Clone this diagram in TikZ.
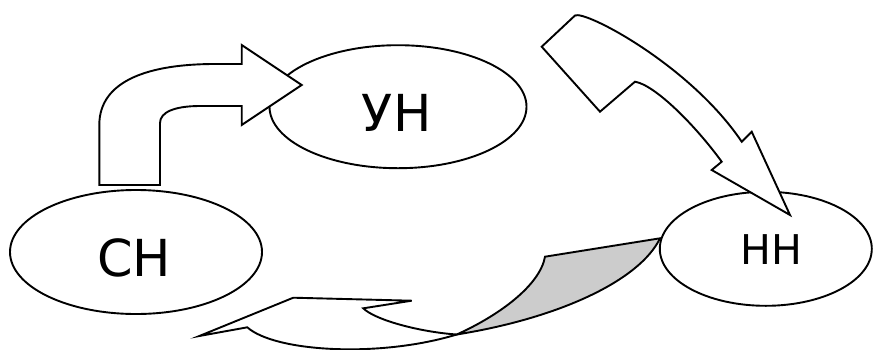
\documentclass[tikz,border=0pt]{standalone}
\usepackage{fontspec}
\setmainfont{DejaVu Sans}
\usetikzlibrary{shapes.geometric}
\definecolor{shade}{HTML}{CCCCCC}
\begin{document}
\begin{tikzpicture}[x=1pt,y=-1pt,
  blob/.style={ellipse,draw=black,line width=1.9pt,fill=white,inner sep=0pt},
  blockarrow/.style={draw=black,line width=1.9pt,fill=white,line join=miter},
  lbl/.style={inner sep=0pt,font=\fontsize{51}{51}\selectfont},
  slbl/.style={inner sep=0pt,font=\fontsize{41}{41}\selectfont}]
\useasboundingbox (0,0) rectangle (873,349);
\clip (0,0) rectangle (873,349);
% ellipses СН and УН
\node[blob,minimum width=252pt,minimum height=124pt] (CH) at (136,252) {};
\node[lbl] (tCH) at (134,258) {СН};
\node[blob,minimum width=257pt,minimum height=123pt] (UN) at (398,106.7) {};
\node[lbl] (tUN) at (396.7,113.3) {УН};
% arrow СН -> УН
\draw[blockarrow] (99.3,185) -- (99.3,125) .. controls (99.3,80) and (150,64) .. (215,64)
  -- (241.7,64) -- (241.7,45) -- (301.7,85) -- (241.7,125) -- (241.7,106) -- (200,106)
  .. controls (175,106) and (160,112) .. (160,123) -- (160,185) -- cycle;
% arrow НН -> (bottom), gray underside
\draw[blockarrow,fill=shade] (545,256.7) -- (660,238.3)
  .. controls (640,280) and (560,318) .. (456.7,334.5)
  .. controls (500,315) and (540,285) .. cycle;
\draw[blockarrow] (456.7,334.5) .. controls (420,332) and (375,320) .. (363.3,308.3)
  -- (411.7,300.7) -- (293.3,297.7) -- (199.3,336) -- (247.3,327.3)
  .. controls (275,352) and (380,358) .. cycle;
% ellipse НН
\node[blob,minimum width=212pt,minimum height=114pt] (NN) at (765.8,248.8) {};
\node[slbl] (tNN) at (771.5,250) {НН};
% arrow УН -> НН
\draw[blockarrow] (541.7,46.7) -- (575,15.5) .. controls (585,10) and (690,65) .. (741.7,141.7)
  -- (751.7,131.7) -- (790,215) -- (711.7,170) -- (721.7,161.7)
  .. controls (695,125) and (655,85) .. (635,81.7) -- (600,111.7) -- cycle;
\end{tikzpicture}
\end{document}
